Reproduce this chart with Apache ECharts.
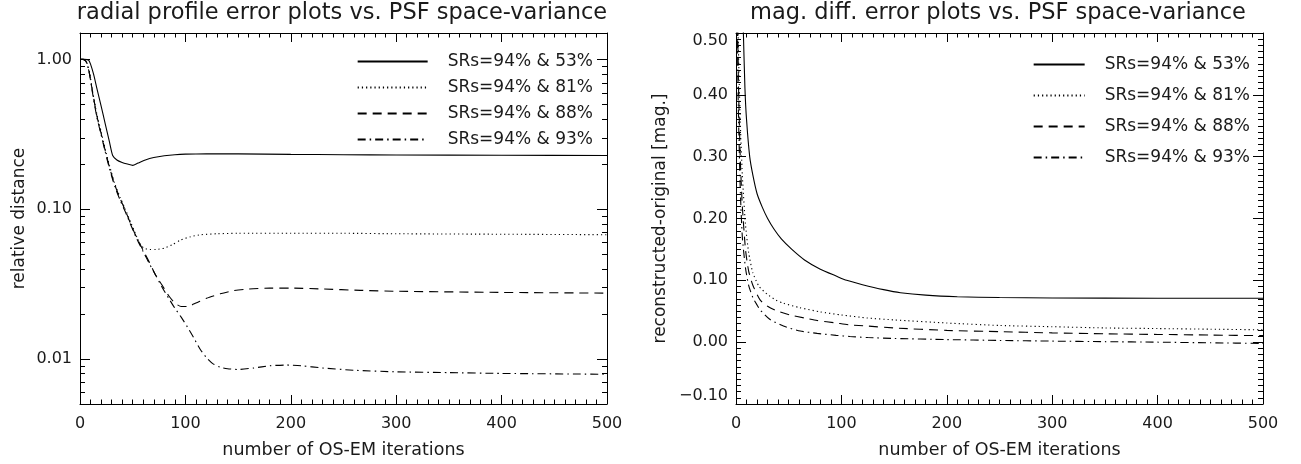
<!DOCTYPE html>
<html><head><meta charset="utf-8">
<script src="https://cdn.jsdelivr.net/npm/echarts@6/dist/echarts.min.js"></script>
<style>html,body{margin:0;padding:0;background:#fff}#c{width:1301px;height:464px}</style>
</head><body><div id="c"></div>
<script>
// ---------------- data ----------------
const seriesNames = ['SRs=94% & 53%', 'SRs=94% & 81%', 'SRs=94% & 88%', 'SRs=94% & 93%'];
const titleLeft = 'radial profile error plots vs. PSF space-variance';
const titleRight = 'mag. diff. error plots vs. PSF space-variance';
const xName = 'number of OS-EM iterations';
const yNameLeft = 'relative distance';
const yNameRight = 'reconstructed-original [mag.]';

const X_MIN = 0, X_MAX = 500, X_STEP = 100;
const LOG_MIN = 0.005, LOG_MAX = 1.5;
const LIN_MIN = -0.1, LIN_MAX = 0.5, LIN_STEP = 0.1;
const logMinorTickValues = [0.006, 0.007, 0.008, 0.009, 0.02, 0.03, 0.04, 0.05, 0.06, 0.07, 0.08, 0.09,
  0.2, 0.3, 0.4, 0.5, 0.6, 0.7, 0.8, 0.9];

// left panel: radial profile relative distance (log)
const leftIter53 = [0, 4, 8, 10, 13, 16, 20, 24, 28, 31, 35, 40, 45, 50, 55, 62, 70, 80, 90, 100, 120, 150, 200, 250, 300, 400, 500];
const leftVal53 = [1.0, 1.0, 0.99, 0.93, 0.79, 0.64, 0.49, 0.37, 0.28, 0.228, 0.213, 0.205, 0.2, 0.196, 0.203, 0.213, 0.221, 0.227, 0.231, 0.233, 0.234, 0.234, 0.232, 0.231, 0.230, 0.229, 0.228];

const leftIter81 = [0, 3, 6, 9, 12, 16, 20, 24, 28, 33, 38, 43, 48, 54, 58, 62, 66, 72, 80, 88, 95, 105, 115, 130, 150, 200, 250, 300, 400, 500];
const leftVal81 = [1.0, 1.0, 0.97, 0.82, 0.61, 0.43, 0.33, 0.25, 0.195, 0.148, 0.12, 0.1, 0.082, 0.065, 0.057, 0.0545, 0.0538, 0.0538, 0.055, 0.058, 0.062, 0.0655, 0.0675, 0.0685, 0.069, 0.069, 0.069, 0.0685, 0.068, 0.0675];

const leftIter88 = [0, 3, 6, 9, 12, 16, 20, 24, 28, 33, 38, 43, 48, 54, 60, 66, 72, 78, 84, 90, 96, 102, 110, 120, 133, 145, 160, 180, 200, 230, 266, 300, 400, 500];
const leftVal88 = [1.0, 1.0, 0.96, 0.8, 0.6, 0.42, 0.32, 0.245, 0.19, 0.145, 0.118, 0.098, 0.08, 0.064, 0.053, 0.044, 0.036, 0.031, 0.0265, 0.0236, 0.0224, 0.0224, 0.0236, 0.0254, 0.0272, 0.0285, 0.0293, 0.0297, 0.0297, 0.0293, 0.0287, 0.0283, 0.0278, 0.0275];

const leftIter93 = [0, 3, 6, 9, 12, 16, 20, 24, 28, 33, 38, 43, 48, 54, 60, 66, 72, 78, 84, 90, 96, 102, 108, 114, 120, 126, 133, 140, 150, 165, 180, 195, 210, 230, 260, 300, 350, 400, 500];
const leftVal93 = [1.0, 1.0, 0.96, 0.8, 0.59, 0.41, 0.315, 0.24, 0.186, 0.142, 0.115, 0.096, 0.079, 0.063, 0.052, 0.043, 0.036, 0.030, 0.0255, 0.0218, 0.019, 0.0163, 0.0138, 0.0116, 0.0102, 0.0093, 0.0088, 0.0086, 0.0085, 0.0087, 0.009, 0.0091, 0.009, 0.0087, 0.0084, 0.0082, 0.0081, 0.008, 0.0079];

// right panel: magnitude difference (linear)
const rightIter53 = [3, 5, 7, 8.5, 10, 13, 16, 20, 25, 30, 36, 43, 53, 65, 80, 95, 105, 120, 140, 156, 180, 210, 250, 300, 400, 500];
const rightVal53 = [0.85, 0.65, 0.5, 0.41, 0.36, 0.30, 0.27, 0.24, 0.218, 0.2, 0.183, 0.167, 0.15, 0.133, 0.118, 0.107, 0.10, 0.093, 0.085, 0.080, 0.076, 0.0735, 0.0722, 0.0715, 0.071, 0.071];

const rightIter81 = [0, 2, 4, 6, 9, 12, 16, 22, 30, 38, 45, 60, 80, 100, 125, 150, 200, 250, 300, 350, 400, 450, 500];
const rightVal81 = [0.9, 0.5, 0.36, 0.27, 0.19, 0.145, 0.112, 0.09, 0.077, 0.068, 0.063, 0.056, 0.049, 0.044, 0.039, 0.036, 0.031, 0.027, 0.025, 0.023, 0.022, 0.021, 0.020];

const rightIter88 = [0, 2, 4, 6, 9, 12, 16, 23, 30, 38, 51, 65, 77, 95, 108, 125, 150, 200, 250, 300, 350, 400, 450, 500];
const rightVal88 = [0.85, 0.45, 0.3, 0.22, 0.15, 0.115, 0.092, 0.068, 0.058, 0.051, 0.044, 0.039, 0.035, 0.031, 0.028, 0.026, 0.023, 0.019, 0.017, 0.015, 0.0135, 0.0125, 0.0115, 0.0105];

const rightIter93 = [0, 2, 4, 6, 9, 12, 16, 20, 23, 32, 45, 61, 77, 95, 108, 125, 150, 200, 250, 300, 350, 400, 450, 500];
const rightVal93 = [0.8, 0.4, 0.25, 0.17, 0.12, 0.092, 0.072, 0.06, 0.052, 0.037, 0.026, 0.018, 0.0142, 0.011, 0.0092, 0.0075, 0.006, 0.0042, 0.0028, 0.0017, 0.0008, 0.0, -0.001, -0.002];

// ---------------- chart ----------------
const FONT = 'DejaVu Sans';
const BLACK = '#000';
const TEXT = '#1a1a1a';
const lineTypes = ['solid', [1.2, 3], [9, 6], [8, 4, 1.5, 4]];
const pairs = (xs, ys) => xs.map((x, i) => [x, ys[i]]);

const leftData = [pairs(leftIter53, leftVal53), pairs(leftIter81, leftVal81), pairs(leftIter88, leftVal88), pairs(leftIter93, leftVal93)];
const rightData = [pairs(rightIter53, rightVal53), pairs(rightIter81, rightVal81), pairs(rightIter88, rightVal88), pairs(rightIter93, rightVal93)];

const tickStyle = { show: true, inside: true, length: 9, lineStyle: { color: BLACK, width: 1 } };
const minorStyle = (n, len) => ({ show: true, splitNumber: n, length: len, lineStyle: { color: BLACK, width: 1 } });
const lineAxis = { show: true, onZero: false, lineStyle: { color: BLACK, width: 1 } };
const labelStyle = { color: TEXT, fontSize: 16, fontFamily: FONT };
const nameStyle = { color: TEXT, fontSize: 17.5, fontFamily: FONT };

function xAxes(gridIndex) {
  return [
    { gridIndex, type: 'value', position: 'bottom', min: X_MIN, max: X_MAX, interval: X_STEP,
      axisLine: lineAxis, axisTick: tickStyle, minorTick: minorStyle(10, 4.5),
      axisLabel: Object.assign({ margin: 12 }, labelStyle), splitLine: { show: false },
      name: xName, nameLocation: 'middle', nameGap: 37, nameTextStyle: nameStyle },
    { gridIndex, type: 'value', position: 'top', min: X_MIN, max: X_MAX, interval: X_STEP,
      axisLine: lineAxis, axisTick: tickStyle, minorTick: minorStyle(10, 4.5),
      axisLabel: { show: false }, splitLine: { show: false } }
  ];
}

const logFormatter = v => {
  const e = Math.log10(v);
  return Math.abs(e - Math.round(e)) < 1e-6 ? v.toFixed(2) : '';
};
const linFormatter = v => v.toFixed(2).replace('-', '\u2212');

const yAxes = [
  { gridIndex: 0, type: 'log', logBase: 10, position: 'left', min: LOG_MIN, max: LOG_MAX,
    axisLine: lineAxis, axisTick: Object.assign({}, tickStyle, { length: 10 }), minorTick: { show: false },
    axisLabel: Object.assign({ margin: 8, interval: 0, formatter: logFormatter }, labelStyle),
    splitLine: { show: false },
    name: yNameLeft, nameLocation: 'middle', nameGap: 52, nameTextStyle: Object.assign({}, nameStyle, { fontSize: 17 }) },
  { gridIndex: 0, type: 'log', logBase: 10, position: 'right', min: LOG_MIN, max: LOG_MAX,
    axisLine: lineAxis, axisTick: Object.assign({}, tickStyle, { length: 10 }), minorTick: { show: false },
    axisLabel: { show: false }, splitLine: { show: false } },
  { gridIndex: 1, type: 'value', position: 'left', min: LIN_MIN, max: LIN_MAX, interval: LIN_STEP,
    axisLine: lineAxis, axisTick: Object.assign({}, tickStyle, { length: 10 }), minorTick: minorStyle(10, 5),
    axisLabel: Object.assign({ margin: 8, formatter: linFormatter, verticalAlignMaxLabel: 'top', verticalAlignMinLabel: 'bottom' }, labelStyle),
    splitLine: { show: false },
    name: yNameRight, nameLocation: 'middle', nameGap: 67, nameTextStyle: Object.assign({}, nameStyle, { fontSize: 17 }) },
  { gridIndex: 1, type: 'value', position: 'right', min: LIN_MIN, max: LIN_MAX, interval: LIN_STEP,
    axisLine: lineAxis, axisTick: Object.assign({}, tickStyle, { length: 10 }), minorTick: minorStyle(10, 5),
    axisLabel: { show: false }, splitLine: { show: false } }
];

const series = [];
seriesNames.forEach((name, i) => {
  series.push({ name, type: 'line', xAxisIndex: 0, yAxisIndex: 0, data: leftData[i],
    symbol: 'none', showSymbol: false, smooth: 0.2, clip: true, silent: true,
    lineStyle: { color: BLACK, width: 1.1, type: lineTypes[i] }, itemStyle: { color: BLACK } });
});
seriesNames.forEach((name, i) => {
  series.push({ name, type: 'line', xAxisIndex: 2, yAxisIndex: 2, data: rightData[i],
    symbol: 'none', showSymbol: false, smooth: 0.2, clip: true, silent: true,
    lineStyle: { color: BLACK, width: 1.1, type: lineTypes[i] }, itemStyle: { color: BLACK } });
});
// log-axis minor ticks (left and right edges of the left panel)
series.push({
  type: 'custom', xAxisIndex: 0, yAxisIndex: 0, silent: true, clip: false, z: 5,
  data: logMinorTickValues.map(v => [X_MIN, v]),
  encode: { x: 0, y: 1 },
  renderItem(params, api) {
    const v = api.value(1);
    const p0 = api.coord([X_MIN, v]);
    const p1 = api.coord([X_MAX, v]);
    const y = Math.round(p0[1]) + 0.5;
    const st = { stroke: BLACK, lineWidth: 1 };
    return { type: 'group', children: [
      { type: 'line', shape: { x1: p0[0], y1: y, x2: p0[0] + 5, y2: y }, style: st },
      { type: 'line', shape: { x1: p1[0], y1: y, x2: p1[0] - 5, y2: y }, style: st }
    ] };
  }
});

const legendCommon = {
  orient: 'vertical', data: seriesNames, itemHeight: 14, selectedMode: false,
  itemStyle: { color: 'rgba(0,0,0,0)', borderWidth: 0, opacity: 0 },
  textStyle: { color: TEXT, fontSize: 17, fontFamily: FONT, lineHeight: 14, padding: [0, 0, 0, 15] }
};

const titleStyle = { color: TEXT, fontSize: 22.5, fontWeight: 'normal', fontFamily: FONT };

const option = {
  animation: false,
  backgroundColor: '#fff',
  title: [
    { text: titleLeft, left: 342, top: 2, textAlign: 'center', padding: 0, textStyle: titleStyle },
    { text: titleRight, left: 998, top: 2, textAlign: 'center', padding: 0, textStyle: titleStyle }
  ],
  legend: [
    Object.assign({}, legendCommon, { right: 708, top: 53, itemWidth: 70, itemGap: 9, padding: 0 }),
    Object.assign({}, legendCommon, { right: 51, top: 56, itemWidth: 51, itemGap: 14, padding: 0 })
  ],
  grid: [
    { left: 80, top: 33, width: 527, height: 375 },
    { left: 736, top: 33, width: 527, height: 375 }
  ],
  xAxis: xAxes(0).concat(xAxes(1)),
  yAxis: yAxes,
  series
};

const chart = echarts.init(document.getElementById('c'), null, { renderer: 'canvas' });
chart.setOption(option);
</script></body></html>
